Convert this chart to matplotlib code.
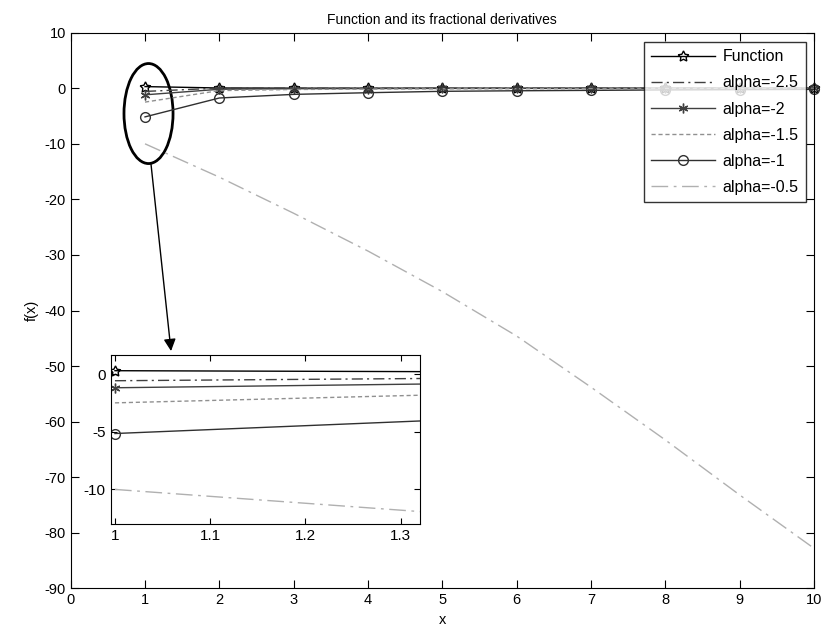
import numpy as np
import matplotlib
matplotlib.use('Agg')
import matplotlib.pyplot as plt
from matplotlib.patches import Ellipse

plt.rcParams['font.family'] = ['Liberation Sans', 'DejaVu Sans']
plt.rcParams['axes.unicode_minus'] = False

# values (x = 1..10)
x = [1, 2, 3, 4, 5, 6, 7, 8, 9, 10]
f_func = [0.30, 0.05, 0.02, 0.01, 0.0, 0.0, 0.0, 0.0, 0.0, 0.0]
f_a25 = [-0.57, 0.03, 0.01, 0.0, 0.0, 0.0, 0.0, 0.0, 0.0, 0.0]
f_a2 = [-1.18, -0.18, -0.08, -0.05, -0.03, -0.02, -0.02, -0.01, -0.01, -0.01]
f_a15 = [-2.49, -0.42, -0.22, -0.14, -0.10, -0.08, -0.06, -0.05, -0.04, -0.03]
f_a1 = [-5.15, -1.75, -1.10, -0.80, -0.55, -0.45, -0.38, -0.30, -0.25, -0.20]
f_a05 = [-10.0, -16.0, -22.5, -29.3, -36.6, -44.6, -53.8, -63.3, -73.2, -82.8]

labels = ['Function', 'alpha=-2.5', 'alpha=-2', 'alpha=-1.5', 'alpha=-1', 'alpha=-0.5']
series = [f_func, f_a25, f_a2, f_a15, f_a1, f_a05]
styles = [
    dict(color='black', ls='-', marker=(5, 1, 0), mfc='none', ms=8, lw=1.0),
    dict(color='#404040', ls=(0, (8, 3, 1.5, 3)), marker='', lw=1.0),
    dict(color='#404040', ls='-', marker=(6, 2, 0), ms=7, lw=1.0),
    dict(color='#909090', ls=(0, (3, 2)), marker='', lw=1.0),
    dict(color='#303030', ls='-', marker='o', mfc='none', ms=7, lw=1.0),
    dict(color='#b0b0b0', ls=(0, (12, 4, 2, 4)), marker='', lw=1.0),
]

fig = plt.figure(figsize=(8.21, 6.35), dpi=100)
ax = fig.add_axes([0.0861, 0.0735, 0.9054, 0.875])

for y, lab, st in zip(series, labels, styles):
    ax.plot(x, y, label=lab, clip_on=False, **st)

ax.set_xlim(0, 10)
ax.set_ylim(-90, 10)
ax.set_xticks(range(0, 11))
ax.set_yticks(range(-90, 11, 10))
ax.tick_params(direction='in', top=True, right=True, length=6, labelsize=10.5)
ax.set_xlabel('x', fontsize=10.5)
ax.set_ylabel('f(x)', fontsize=10.5)
ax.set_title('Function and its fractional derivatives', fontsize=10)

leg = ax.legend(loc='upper right', bbox_to_anchor=(0.9892, 0.9833), fontsize=11.5,
                frameon=True, fancybox=False, edgecolor='black', handlelength=4.0,
                labelspacing=0.7, borderpad=0.45, handletextpad=0.5, borderaxespad=0)
leg.get_frame().set_linewidth(1.0)

# zoom ellipse and arrow
ell = Ellipse((1.047, -4.55), 0.66, 18, fill=False, edgecolor='black', lw=2)
ax.add_patch(ell)
ax.annotate('', xy=(1.35, -47.3), xytext=(1.08, -13.6),
            arrowprops=dict(arrowstyle='-|>', color='black', lw=1.0,
                            mutation_scale=18, shrinkA=0, shrinkB=0))

# inset
axi = fig.add_axes([0.1348, 0.1748, 0.3764, 0.2661])
for y, st in zip(series, styles):
    axi.plot(x, y, **st)
axi.set_xlim(0.9955, 1.32)
axi.set_ylim(-13.0, 1.66)
axi.set_xticks([1, 1.1, 1.2, 1.3])
axi.set_xticklabels(['1', '1.1', '1.2', '1.3'])
axi.set_yticks([-10, -5, 0])
axi.tick_params(direction='in', top=True, right=True, length=4, labelsize=11)

fig.savefig('out.png', dpi=100)
